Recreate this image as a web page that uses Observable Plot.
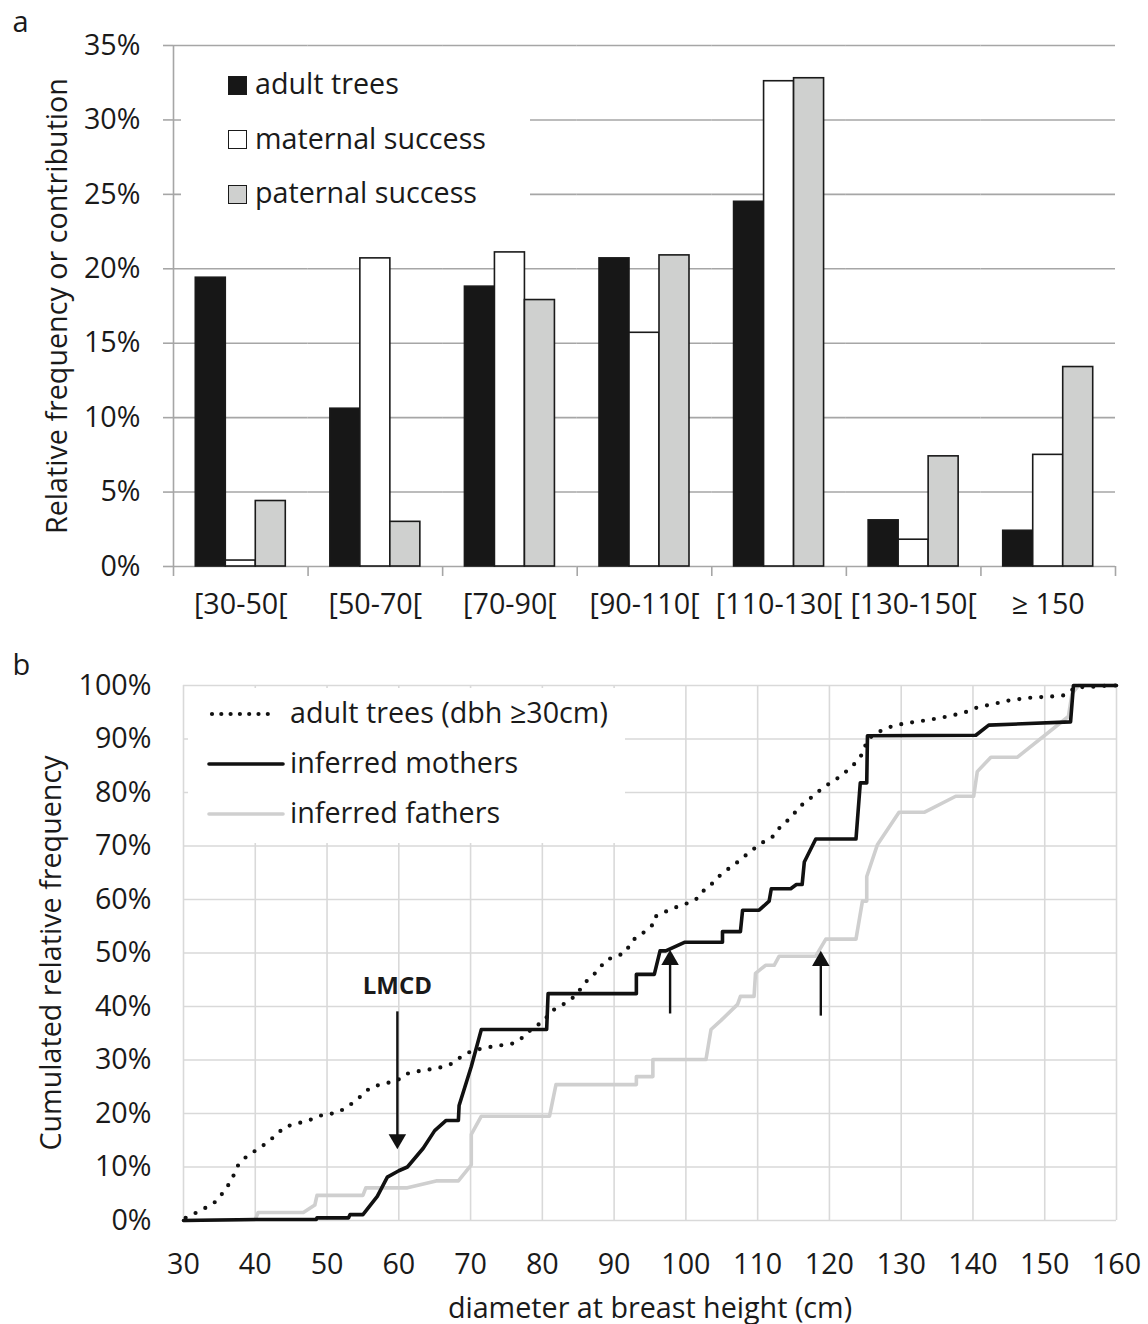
<!DOCTYPE html>
<html><head><meta charset="utf-8">
<script src="https://cdn.jsdelivr.net/npm/d3@7"></script>
<script src="https://cdn.jsdelivr.net/npm/@observablehq/plot@0.6"></script>
<style>
html,body{margin:0;padding:0;background:#fff;}
#fig{position:relative;width:1148px;height:1324px;font-family:'Open Sans',sans-serif;color:#1a1a1a;overflow:hidden;background:#fff}
#fig svg{display:block}
.abs{position:absolute;white-space:nowrap;line-height:1.2}
.box{position:absolute;background:#fff}
.sq{position:absolute;box-sizing:border-box;width:19px;height:19px;border:1.6px solid #1a1a1a}
</style></head><body><div id="fig"></div>
<script>
// ---------- Panel a data ----------
const cats = ["[30-50[", "[50-70[", "[70-90[", "[90-110[", "[110-130[", "[130-150[", "≥ 150"];
const seriesA = ["adult trees", "maternal success", "paternal success"];
const adultTrees = [19.4, 10.6, 18.8, 20.7, 24.5, 3.1, 2.4];
const maternal   = [0.4, 20.7, 21.1, 15.7, 32.6, 1.8, 7.5];
const paternal   = [4.4, 3.0, 17.9, 20.9, 32.8, 7.4, 13.4];
const yTicksA = [0, 5, 10, 15, 20, 25, 30, 35];
const colorsA = ["#171717", "#ffffff", "#cfd0cf"];

// ---------- Panel b data ----------
const xTicksB = [30, 40, 50, 60, 70, 80, 90, 100, 110, 120, 130, 140, 150, 160];
const yTicksB = [0, 10, 20, 30, 40, 50, 60, 70, 80, 90, 100];
const seriesB = ["adult trees (dbh ≥30cm)", "inferred mothers", "inferred fathers"];
const adultCum = [[30.3,0.5],[32.6,2.0],[34.7,3.7],[35.8,5.8],[36.6,7.3],[37.6,10.3],[38.8,12.0],[40.2,13.2],[41.6,14.5],[43.0,16.1],[44.1,17.5],[45.8,18.1],[47.6,18.8],[49.5,19.8],[51.3,20.1],[52.3,20.8],[53.4,21.8],[54.6,23.1],[56.0,24.8],[57.4,25.4],[59.7,26.1],[61.0,27.4],[63.4,28.1],[65.2,28.4],[67.1,29.1],[68.9,30.8],[70.3,31.8],[72.6,32.4],[75.9,33.1],[77.5,34.4],[78.7,36.1],[80.1,37.1],[81.2,39.1],[83.3,40.7],[84.7,42.1],[85.9,44.4],[87.5,46.4],[88.9,48.7],[90.3,49.4],[91.5,50.0],[92.6,52.4],[94.0,53.7],[95.4,55.3],[95.6,56.7],[96.8,57.5],[98.1,58.3],[100.0,59.2],[101.4,60.0],[102.1,61.3],[103.2,62.3],[104.4,64.1],[105.8,65.6],[107.2,67.0],[109.0,69.0],[110.6,70.6],[112.0,71.6],[113.4,74.0],[114.6,75.2],[115.8,77.3],[117.7,79.3],[119.1,80.9],[121.4,82.9],[123.2,84.9],[124.6,87.2],[125.3,89.9],[126.5,91.1],[128.3,92.2],[130.4,92.9],[133.0,93.4],[135.3,93.9],[138.1,94.7],[139.4,95.2],[140.6,95.9],[142.7,96.5],[145.0,97.2],[147.8,97.7],[151.5,98.0],[152.9,98.2],[154.3,99.7],[156.1,99.7],[158.9,100],[160,100]];
const mothersCum = [[30,0],[40.2,0.2],[48.5,0.2],[48.6,0.5],[53.0,0.5],[53.2,1.1],[55.0,1.1],[57.0,4.5],[58.4,8.1],[60.0,9.3],[61.2,10.0],[63.4,13.5],[65.0,16.8],[66.6,18.7],[68.3,18.7],[68.4,21.5],[70.1,28.8],[71.5,35.7],[80.6,35.7],[80.8,42.4],[93.1,42.4],[93.1,46.0],[95.6,46.0],[96.4,50.4],[97.2,50.4],[99.8,52.0],[105.1,52.0],[105.1,54.0],[107.6,54.0],[107.9,58.0],[110.2,58.0],[111.6,59.7],[111.9,62.0],[114.6,62.0],[115.4,62.8],[116.2,62.8],[116.5,67.0],[118.1,71.3],[123.7,71.3],[124.3,81.8],[125.2,81.8],[125.3,90.6],[140.4,90.7],[142.2,92.6],[153.6,93.2],[154.0,100],[160,100]];
const fathersCum = [[30,0],[40.0,0.2],[40.4,1.5],[46.7,1.5],[48.3,2.9],[48.6,4.7],[55.0,4.7],[55.4,6.1],[61.2,6.1],[65.2,7.4],[68.3,7.4],[70.1,10.4],[70.1,16.1],[71.5,19.5],[81.0,19.5],[81.9,25.4],[93.1,25.4],[93.1,26.9],[95.4,26.9],[95.4,30.1],[102.8,30.1],[103.5,35.7],[104.9,37.4],[107.2,40.4],[107.6,41.9],[109.5,41.9],[109.7,46.2],[111.1,47.7],[112.3,47.7],[113.0,49.4],[118.1,49.4],[118.8,51.0],[119.5,52.6],[123.7,52.6],[124.6,59.7],[125.2,59.7],[125.2,64.3],[126.7,70.3],[129.7,76.3],[133.2,76.3],[137.6,79.3],[140.1,79.3],[140.6,83.9],[142.5,86.6],[146.2,86.6],[153.3,94.2],[153.8,98.5],[154.7,100],[160,100]];
// arrows: x, tail (%), head (%)
const arrowX    = [59.8, 97.8, 118.8];
const arrowTail = [39.0, 38.6, 38.2];
const arrowHead = [13.3, 50.6, 50.4];
const lmcdLabel = {x: 59.8, y: 43.7, text: "LMCD"};
const panelLetters = ["a", "b"];

// ---------- layout ----------
const W = 1148;
const FONT = "'Open Sans', sans-serif";
const FS = 28.7;
const LETTER = 29;
const mA = {top: 45, right: 33, bottom: 74, left: 173};
const hA = 640;
const padOuter = 0.743;
const facetW = (W - mA.left - mA.right) / cats.length;
const step = facetW / (seriesA.length + 2 * padOuter);
const gridA = "#a6a6a6";

const rowsA = cats.flatMap((c, i) => seriesA.map((s, j) => ({cat: c, series: s, value: [adultTrees, maternal, paternal][j][i]})));

const plotA = Plot.plot({
  width: W, height: hA,
  marginTop: mA.top, marginRight: mA.right, marginBottom: mA.bottom, marginLeft: mA.left,
  style: {fontFamily: FONT, fontSize: FS + "px", color: "#1a1a1a", background: "transparent", overflow: "visible"},
  fx: {domain: cats, padding: 0, label: null, round: false},
  x: {domain: seriesA, paddingInner: 0, paddingOuter: padOuter, axis: null, round: false},
  y: {domain: [0, 35]},
  color: {domain: seriesA, range: colorsA},
  marks: [
    Plot.gridY(yTicksA, {stroke: gridA, strokeOpacity: 1, strokeWidth: 1.6}),
    Plot.ruleX(cats.slice(1), {fx: d => d, x: () => seriesA[0], y1: 0, y2: 0, dx: -(padOuter + 0.5) * step, insetBottom: -10, stroke: gridA, strokeWidth: 1.6}),
    Plot.ruleX([cats[cats.length - 1]], {fx: d => d, x: () => seriesA[2], y1: 0, y2: 0, dx: (padOuter + 0.5) * step, insetBottom: -10, stroke: gridA, strokeWidth: 1.6}),
    Plot.ruleX([cats[0]], {fx: d => d, x: () => seriesA[0], y1: 35, y2: 0, dx: -(padOuter + 0.5) * step, insetBottom: -10, stroke: gridA, strokeWidth: 1.6}),
    Plot.barY(rowsA, {fx: "cat", x: "series", y: "value", fill: "series", stroke: "#1a1a1a", strokeWidth: 1.6}),
    Plot.axisY({ticks: yTicksA, tickFormat: d => d + "%", tickSize: 10, tickPadding: 23, stroke: gridA, strokeWidth: 1.6,
      label: "Relative frequency or contribution", labelAnchor: "center", labelOffset: 126.4, labelArrow: false}),
    Plot.axisFx({anchor: "bottom", tickSize: 0, tickPadding: 27, label: null}),
    Plot.text([cats[0]], {fx: d => d, text: () => panelLetters[0], frameAnchor: "top-left", textAnchor: "start", lineAnchor: "middle",
      dx: 12 - mA.left, dy: (31.5 - 0.32 * LETTER) - mA.top, fontSize: LETTER, fill: "#1a1a1a"})
  ]
});

const mB = {top: 45, right: 32, bottom: 104, left: 183};
const hB = 684;
const gridB = "#d9d9d9";
const arrows = arrowX.map((x, i) => ({x, tail: arrowTail[i], head: arrowHead[i], down: arrowHead[i] < arrowTail[i]}));
const up = arrows.filter(a => !a.down), down = arrows.filter(a => a.down);
const R = 6.5;
const plotB = Plot.plot({
  width: W, height: hB,
  marginTop: mB.top, marginRight: mB.right, marginBottom: mB.bottom, marginLeft: mB.left,
  style: {fontFamily: FONT, fontSize: FS + "px", color: "#1a1a1a", background: "transparent", overflow: "visible"},
  x: {domain: [30, 160]},
  y: {domain: [0, 100]},
  marks: [
    Plot.gridX(xTicksB, {stroke: gridB, strokeOpacity: 1, strokeWidth: 1.6}),
    Plot.gridY(yTicksB, {stroke: gridB, strokeOpacity: 1, strokeWidth: 1.6}),
    Plot.axisX({ticks: xTicksB, tickSize: 0, tickPadding: 33, label: "diameter at breast height (cm)", labelAnchor: "center", labelOffset: 97, labelArrow: false}),
    Plot.axisY({ticks: yTicksB, tickFormat: d => d + "%", tickSize: 0, tickPadding: 32, label: "Cumulated relative frequency", labelAnchor: "center", labelOffset: 142.9, labelArrow: false}),
    Plot.line(fathersCum, {x: d => d[0], y: d => d[1], stroke: "#cfcfcf", strokeWidth: 3.6, strokeLinejoin: "round"}),
    Plot.line(mothersCum, {x: d => d[0], y: d => d[1], stroke: "#111", strokeWidth: 3.6, strokeLinejoin: "round"}),
    Plot.line(adultCum, {x: d => d[0], y: d => d[1], stroke: "#111", strokeWidth: 4.2, strokeDasharray: "0 11", strokeLinecap: "round"}),
    Plot.ruleX(down, {x: "x", y1: "tail", y2: "head", insetBottom: 8, stroke: "#111", strokeWidth: 2.4}),
    Plot.ruleX(up, {x: "x", y1: "head", y2: "tail", insetTop: 8, stroke: "#111", strokeWidth: 2.4}),
    Plot.dot(down, {x: "x", y: "head", symbol: "triangle", r: R, fill: "#111", stroke: "none", rotate: 180, dy: -1.555 * R}),
    Plot.dot(up, {x: "x", y: "head", symbol: "triangle", r: R, fill: "#111", stroke: "none", dy: 1.555 * R}),
    Plot.text([lmcdLabel], {x: "x", y: "y", text: "text", fontWeight: "bold", fontSize: 24, fill: "#1a1a1a"}),
    Plot.text([panelLetters[1]], {text: d => d, frameAnchor: "top-left", textAnchor: "start", lineAnchor: "middle",
      dx: 12 - mB.left, dy: (674 - hA - 0.32 * LETTER) - mB.top, fontSize: LETTER, fill: "#1a1a1a"})
  ]
});

const fig = document.getElementById("fig");
const wrapA = document.createElement("div"); wrapA.style.cssText = "position:absolute;left:0;top:0;";
wrapA.appendChild(plotA); fig.appendChild(wrapA);
const wrapB = document.createElement("div"); wrapB.style.cssText = "position:absolute;left:0;top:" + hA + "px;";
wrapB.appendChild(plotB); fig.appendChild(wrapB);

// text with given baseline (Open Sans: ascent 1.069em, descent 0.293em)
function addText(txt, left, baseline, size) {
  const d = document.createElement("div");
  d.className = "abs";
  d.textContent = txt;
  const lh = 1.2;
  d.style.left = left + "px";
  d.style.top = (baseline - (lh * size - 1.362 * size) / 2 - 1.069 * size) + "px";
  d.style.fontSize = size + "px";
  fig.appendChild(d);
  return d;
}

// legend a
const boxA = document.createElement("div"); boxA.className = "box";
boxA.style.cssText += "left:181px;top:50px;width:349px;height:180px;";
fig.appendChild(boxA);
const baseA = [94.7, 149.4, 203.7];
seriesA.forEach((s, i) => {
  const sq = document.createElement("div"); sq.className = "sq";
  sq.style.left = "228px"; sq.style.top = (baseA[i] - 19) + "px";
  sq.style.background = colorsA[i];
  fig.appendChild(sq);
  addText(s, 255, baseA[i], FS);
});

// legend b
const boxB = document.createElement("div"); boxB.className = "box";
boxB.style.cssText += "left:188px;top:688px;width:437px;height:155px;";
fig.appendChild(boxB);
const baseB = [723.4, 773.2, 823];
const swatch = [
  '<line x1="3" y1="6" x2="68" y2="6" stroke="#111" stroke-width="4.2" stroke-dasharray="0 9.3" stroke-linecap="round"/>',
  '<line x1="0" y1="6" x2="74" y2="6" stroke="#111" stroke-width="3.6" stroke-linecap="round"/>',
  '<line x1="0" y1="6" x2="74" y2="6" stroke="#cfcfcf" stroke-width="3.6" stroke-linecap="round"/>'
];
seriesB.forEach((s, i) => {
  const sv = document.createElementNS("http://www.w3.org/2000/svg", "svg");
  sv.setAttribute("width", 76); sv.setAttribute("height", 12);
  sv.style.cssText = "position:absolute;left:209px;top:" + (baseB[i] - 9.5 - 6) + "px;overflow:visible";
  sv.innerHTML = swatch[i];
  fig.appendChild(sv);
  addText(s, 290, baseB[i], FS);
});
</script></body></html>
